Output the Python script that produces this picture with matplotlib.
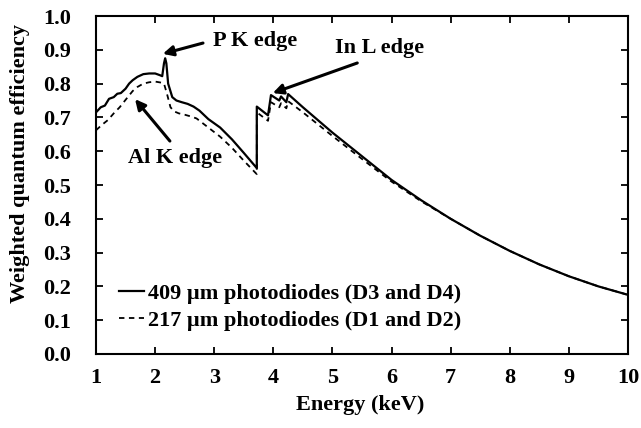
import matplotlib
matplotlib.use("Agg")
import matplotlib.pyplot as plt

plt.rcParams["font.family"] = ["Liberation Serif", "DejaVu Serif"]
plt.rcParams["font.weight"] = "bold"
plt.rcParams["font.size"] = 16

# Weighted QE of the thick (409 um) photodiodes; repeated energies mark absorption edges
energy_409 = [1.00, 1.08, 1.15, 1.22, 1.30, 1.36, 1.42, 1.50, 1.56, 1.62, 1.70, 1.80,
              1.90, 2.00, 2.08, 2.12, 2.15, 2.17, 2.19, 2.22, 2.29, 2.36, 2.45,
              2.55, 2.65, 2.75, 2.90, 3.10, 3.30, 3.50, 3.72, 3.72, 3.91, 3.96,
              4.10, 4.13, 4.22, 4.25, 4.50, 5.00, 5.50, 6.00, 6.50, 7.00, 7.50,
              8.00, 8.50, 9.00, 9.50, 10.00]
qe_409 = [0.715, 0.730, 0.735, 0.755, 0.760, 0.770, 0.772, 0.785, 0.800, 0.810, 0.820, 0.828,
          0.830, 0.830, 0.825, 0.822, 0.860, 0.875, 0.860, 0.800, 0.760, 0.750, 0.745,
          0.740, 0.732, 0.720, 0.695, 0.670, 0.635, 0.595, 0.550, 0.732, 0.706, 0.766,
          0.750, 0.762, 0.745, 0.769, 0.730, 0.655, 0.585, 0.515, 0.455, 0.400, 0.350,
          0.305, 0.265, 0.230, 0.200, 0.175]

# Same for the thinner (217 um) photodiodes
energy_217 = [1.00, 1.10, 1.20, 1.30, 1.40, 1.50, 1.56, 1.62, 1.70, 1.80, 1.90,
              2.00, 2.10, 2.15, 2.20, 2.26, 2.32, 2.40, 2.50, 2.60, 2.70, 2.90,
              3.10, 3.30, 3.50, 3.72, 3.72, 3.91, 3.96, 4.10, 4.13, 4.22, 4.25,
              4.50, 5.00, 5.50, 6.00, 6.50, 7.00, 7.50, 8.00, 8.50, 9.00, 9.50, 10.00]
qe_217 = [0.662, 0.678, 0.692, 0.712, 0.730, 0.752, 0.765, 0.778, 0.790, 0.800, 0.804,
          0.806, 0.803, 0.800, 0.770, 0.730, 0.718, 0.712, 0.708, 0.703, 0.697, 0.670,
          0.643, 0.610, 0.572, 0.532, 0.715, 0.690, 0.745, 0.730, 0.742, 0.727, 0.748,
          0.715, 0.645, 0.577, 0.510, 0.452, 0.400, 0.350, 0.305, 0.265, 0.230, 0.200, 0.175]

labels = ["409 µm photodiodes (D3 and D4)", "217 µm photodiodes (D1 and D2)"]
x_ticks = list(range(1, 11))
y_ticks = [i / 10 for i in range(11)]

fig = plt.figure(figsize=(6.41, 4.28), dpi=100)
ax = fig.add_axes([0.1498, 0.1729, 0.8299, 0.7897])

ax.plot(energy_409, qe_409, color="black", lw=1.6, label=labels[0])
ax.plot(energy_217, qe_217, color="black", lw=1.3, dashes=(3, 2.5), label=labels[1])

ax.set_xlim(1, 10)
ax.set_ylim(0, 1.0)
ax.set_xticks(x_ticks)
ax.set_yticks(y_ticks)
ax.set_yticklabels([f"{v:.1f}" for v in y_ticks])
ax.tick_params(direction="in", top=True, right=True, length=5, width=1.3, labelsize=16)
ax.tick_params(axis="x", pad=10)
ax.tick_params(axis="y", pad=18)
for s in ax.spines.values():
    s.set_linewidth(1.5)

ax.set_xlabel("Energy (keV)", fontsize=16, fontweight="bold")
ax.set_ylabel("Weighted quantum efficiency", fontsize=16, fontweight="bold")
ax.xaxis.set_label_coords(0.496, -0.122)
ax.yaxis.set_label_coords(-0.124, 0.565)

# edge annotations
arrow = dict(arrowstyle="-|>", color="black", lw=2.2, mutation_scale=15, shrinkA=0, shrinkB=0)
ax.annotate("", xy=(2.13, 0.888), xytext=(2.81, 0.92), arrowprops=arrow)
ax.text(3.69, 0.926, "P K edge", ha="center", va="center", fontsize=16, fontweight="bold")
ax.annotate("", xy=(1.66, 0.754), xytext=(2.25, 0.63), arrowprops=arrow)
ax.text(2.34, 0.58, "Al K edge", ha="center", va="center", fontsize=16, fontweight="bold")
ax.annotate("", xy=(3.99, 0.772), xytext=(5.42, 0.861), arrowprops=arrow)
ax.text(5.79, 0.905, "In L edge", ha="center", va="center", fontsize=16, fontweight="bold")

ax.legend(loc="lower left", bbox_to_anchor=(0.027, 0.041), frameon=False, handlelength=1.1,
          handletextpad=0.2, labelspacing=0.3, borderaxespad=0, fontsize=16)

fig.savefig("out.png", dpi=100)
